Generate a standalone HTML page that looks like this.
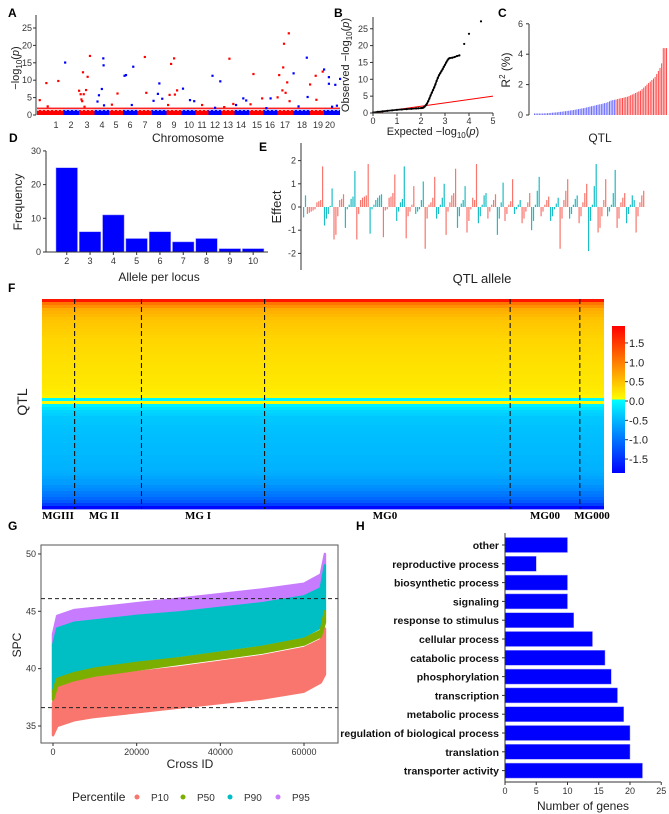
<!DOCTYPE html>
<html><head><meta charset="utf-8"><style>
html,body{margin:0;padding:0;background:#fff;}
svg{display:block;font-family:"Liberation Sans",Arial,sans-serif;}
</style></head><body>
<svg id="fig" width="669" height="814" viewBox="0 0 669 814" xmlns="http://www.w3.org/2000/svg">
<defs>
<linearGradient id="cbar" x1="0" y1="0" x2="0" y2="1">
<stop offset="0" stop-color="#ff0000"/><stop offset="0.25" stop-color="#ff8000"/><stop offset="0.5" stop-color="#ffff00"/><stop offset="0.5" stop-color="#00ffff"/><stop offset="1" stop-color="#0000ff"/>
</linearGradient>
</defs>
<g font-weight="bold" font-size="12" fill="#000">
<text x="8" y="17">A</text>
<text x="334" y="17">B</text>
<text x="498" y="17">C</text>
<text x="9" y="142">D</text>
<text x="259" y="151">E</text>
<text x="8" y="292">F</text>
<text x="8" y="530">G</text>
<text x="356" y="530">H</text>
</g>
<g font-size="12" fill="#222">
<text x="188" y="142" text-anchor="middle">Chromosome</text>
<text transform="translate(19,68) rotate(-90)" text-anchor="middle" font-size="11">−log<tspan font-size="8" dy="3">10</tspan><tspan dy="-3">(</tspan><tspan font-style="italic">p</tspan>)</text>
<text x="433" y="135" text-anchor="middle" font-size="11">Expected  −log<tspan font-size="8" dy="3">10</tspan><tspan dy="-3">(</tspan><tspan font-style="italic">p</tspan>)</text>
<text transform="translate(349,65) rotate(-90)" text-anchor="middle" font-size="11">Observed  −log<tspan font-size="8" dy="3">10</tspan><tspan dy="-3">(</tspan><tspan font-style="italic">p</tspan>)</text>
<text transform="translate(510,70) rotate(-90)" text-anchor="middle">R<tspan font-size="8" dy="-5">2</tspan><tspan dy="5"> (%)</tspan></text>
<text x="600" y="142" text-anchor="middle">QTL</text>
<text x="159" y="281" text-anchor="middle" font-size="12">Allele per locus</text>
<text transform="translate(22,202) rotate(-90)" text-anchor="middle" font-size="12">Frequency</text>
<text transform="translate(281,207) rotate(-90)" text-anchor="middle" font-size="13">Effect</text>
<text x="482" y="283" text-anchor="middle" font-size="13">QTL allele</text>
<text transform="translate(27,402) rotate(-90)" text-anchor="middle" font-size="14">QTL</text>
<text x="190" y="768" text-anchor="middle" font-size="12">Cross ID</text>
<text transform="translate(21,645) rotate(-90)" text-anchor="middle" font-size="12">SPC</text>
<text x="583" y="810" text-anchor="middle" font-size="12">Number of genes</text>
<text x="72" y="801" font-size="12">Percentile</text>
</g>
<g font-family="'Liberation Serif',serif" font-weight="bold" font-size="11" fill="#000">
<text x="58" y="519" text-anchor="middle">MGIII</text>
<text x="104" y="519" text-anchor="middle">MG II</text>
<text x="198" y="519" text-anchor="middle">MG I</text>
<text x="385" y="519" text-anchor="middle">MG0</text>
<text x="545" y="519" text-anchor="middle">MG00</text>
<text x="592" y="519" text-anchor="middle">MG000</text>
</g>
<g id="plots"></g>
</svg>
<script>
// ---------- DATA ----------
const chrLabels=[1,2,3,4,5,6,7,8,9,10,11,12,13,14,15,16,17,18,19,20];
const chrCenters=[56,71,87,102,116,130,145,159,174,189,202,215,228,241,257,270,285,302,318,330];
const manChr=[1,1,1,1,2,3,3,3,3,3,3,3,3,3,3,4,4,4,4,4,4,5,5,6,6,6,6,7,7,8,8,8,8,9,9,9,9,9,9,10,10,10,11,12,12,12,13,13,13,14,14,14,15,15,15,16,16,17,17,17,17,17,17,17,17,17,18,18,18,18,19,19,19,19,20,20,20,20,20,20,20];
const manPos=[0.1,0.35,0.4,0.8,0.1,0.0,0.1,0.15,0.2,0.25,0.3,0.35,0.45,0.55,0.7,0.2,0.3,0.5,0.6,0.62,0.65,0.2,0.6,0.1,0.2,0.6,0.7,0.5,0.6,0.1,0.4,0.5,0.7,0.1,0.2,0.3,0.5,0.55,0.7,0.1,0.6,0.9,0.5,0.3,0.5,0.9,0.2,0.6,0.9,0.1,0.6,0.8,0.1,0.3,0.9,0.2,0.5,0.0,0.1,0.3,0.35,0.4,0.5,0.6,0.7,0.75,0.0,0.3,0.8,0.85,0.0,0.4,0.45,0.9,0.0,0.3,0.3,0.5,0.7,0.8,1.0];
const manVal=[4.3,9.2,2.5,9.8,15.1,7,6,4.5,4,12.3,6,2.4,7.2,11,17,3.9,5.7,7.5,16.3,14.3,2.8,3,6.2,11.3,11.5,2.9,13.9,16.7,6.4,4.1,6.1,9.1,4.7,2.9,5.8,14.7,16.3,5.9,7.1,7.6,4.3,4,2.9,11.3,2.1,9.7,2.3,16.2,3.2,2.9,4.8,4.2,3.1,11.8,4.8,2,4.8,5.1,11.5,7.1,13.7,20.5,6.4,9.4,23.5,4,12,2.5,16.5,5.2,8.8,11.3,4.4,12.5,13.1,10.9,9,2.4,8.7,2.7,10.4];
const manThreshold=1.95;
const qqExp=[0,0.2,0.4,0.6,0.8,1.0,1.2,1.4,1.6,1.8,1.9,2.0,2.05,2.1,2.15,2.2,2.25,2.3,2.35,2.4,2.45,2.5,2.55,2.6,2.65,2.7,2.75,2.8,2.85,2.9,2.95,3.0,3.05,3.1,3.15,3.2,3.3,3.4,3.5,3.6,3.8,4.0,4.5];
const qqObs=[0.15,0.35,0.5,0.65,0.8,0.95,1.05,1.15,1.25,1.35,1.4,1.45,1.5,1.6,1.9,2.3,2.8,3.5,4.3,5.2,6.0,6.8,7.6,8.5,9.5,10.4,11.2,11.8,12.4,13.0,13.7,14.3,15.0,15.6,16.1,16.3,16.4,16.6,16.9,17.1,20.5,23.5,27.2];
const r2Blue=[0.1,0.1,0.1,0.1,0.1,0.1,0.11,0.11,0.12,0.13,0.14,0.15,0.16,0.17,0.18,0.2,0.21,0.22,0.24,0.25,0.27,0.28,0.3,0.31,0.33,0.35,0.37,0.39,0.41,0.43,0.45,0.47,0.5,0.52,0.55,0.58,0.6,0.62,0.65,0.68,0.7,0.72,0.75,0.78,0.8,0.85,0.9,0.95,0.98,1.0];
const r2Red=[1.02,1.05,1.08,1.1,1.12,1.15,1.18,1.2,1.25,1.3,1.35,1.4,1.45,1.5,1.55,1.6,1.7,1.8,1.9,2.0,2.1,2.2,2.3,2.4,2.5,2.7,2.9,3.1,3.4,4.4,4.4,4.4];
const allelesCat=[2,3,4,5,6,7,8,9,10];
const allelesFreq=[25,6,11,4,6,3,4,1,1];
const effLoci=[
[-0.45,0.5],[-0.3,-0.25,-0.2,-0.15,-0.1,0.2,0.25,0.3,1.75],[-0.8,-0.5,-0.3,0.05,0.8],[-1.4,-1.2,-0.4,0.3,0.35,0.55],
[-0.9,-0.1,0.1,0.35,0.45,1.55],[-1.4,-0.3,0.3,0.4,0.45,0.5,1.85],[-1.15,-0.1,0.1,0.3,0.4,0.5,0.55],[-1.3,-0.15,-0.1,0.4,0.45,0.6,1.4],
[-0.6,-0.2,0.2,0.35,1.75],[-1.35,-0.4,-0.2,0.1,0.9],[-0.3,-0.2,-0.1,0.3,1.1],[-1.8,-0.5,0.1,0.2,0.4,1.3],
[-0.5,-0.3,0.1,0.4,1.0],[-1.2,-0.2,0.2,0.5,0.6,1.65],[-0.9,-0.4,0.15,0.3,0.9],[-1.1,-0.6,-0.1,0.4,0.3,1.85],
[-0.7,-0.4,0.1,0.5,0.6],[-0.5,-0.2,0.1,0.3,0.55],[-1.2,-0.5,0.2,1.05],[-0.6,-0.3,0.1,0.25,1.2],
[-0.3,-0.1,0.1,0.3],[-0.7,-0.5,-0.2,0.2,0.6],[-1.0,-0.6,0.1,0.7,1.3],[-0.4,-0.2,0.1,0.3,0.45],
[-0.6,-0.4,-0.1,0.15,0.4],[-1.8,-0.5,0.3,0.7,1.2],[-0.5,-0.3,0.1,0.35,0.5],[-0.7,-0.4,0.2,0.6,1.0],
[-1.9,-0.6,0.1,0.9,1.85],[-1.1,-0.9,-0.4,0.3,1.2],[-0.4,-0.2,0.1,0.6,1.6],[-0.9,-0.5,0.2,0.4,0.6],
[-0.7,-0.3,0.1,0.5,0.3],[-1.1,-0.4,0.2,0.5,0.7]];
const effColors=['#1cbdc4','#f8766d'];
const hmRows=[1.7,1.0,0.8,0.6,0.55,0.5,0.45,0.42,0.4,0.38,0.36,0.34,0.32,0.3,0.3,0.28,0.27,0.26,0.25,0.24,0.23,0.22,0.21,0.2,0.2,0.19,0.18,0.18,0.17,0.16,0.14,0.12,0.08,-0.05,0.05,-0.1,-0.2,-0.3,-0.35,-0.4,-0.4,-0.42,-0.44,-0.45,-0.46,-0.47,-0.48,-0.48,-0.49,-0.5,-0.5,-0.5,-0.52,-0.52,-0.54,-0.55,-0.56,-0.58,-0.6,-0.65,-0.7,-0.72,-0.8,-0.85,-0.95,-1.0,-1.1,-1.2,-1.4,-1.8];
const hmDividers=[0.058,0.177,0.396,0.833,0.957];
const cbTicks=[1.5,1.0,0.5,0.0,-0.5,-1.0,-1.5];
const gX=[0,1000,5000,10000,20000,30000,40000,50000,60000,64000,65000];
const p10Lo=[34.2,35,35.5,35.8,36.2,36.6,37,37.4,38,38.8,39.5];
const p10Hi=[37,38.3,38.8,39.2,39.7,40.1,40.6,41.1,41.8,42.5,43.5];
const p50Lo=[37.3,38.5,39,39.4,39.9,40.4,40.9,41.4,42.1,42.8,44];
const p50Hi=[38,39.1,39.6,40,40.5,40.9,41.4,41.9,42.6,43.3,45];
const p90Lo=[38,39.2,39.7,40.1,40.6,41.1,41.6,42.1,42.8,43.6,45];
const p90Hi=[42,43.5,44,44.2,44.6,44.9,45.3,45.7,46.3,47,49];
const p95Hi=[43,44.6,45.1,45.3,45.7,46.1,46.5,46.9,47.4,48.2,50];
const gHlines=[46.1,36.6];
const gYTicks=[35,40,45,50];
const gXTicks=[0,20000,40000,60000];
const hCats=['other','reproductive process','biosynthetic process','signaling','response to stimulus','cellular process','catabolic process','phosphorylation','transcription','metabolic process','regulation of biological process','translation','transporter activity'];
const hVals=[10,5,10,10,11,14,16,17,18,19,20,20,22];
const hTicks=[0,5,10,15,20,25];

// ---------- HELPERS ----------
const NS='http://www.w3.org/2000/svg';
const root=document.getElementById('plots');
function mk(tag,attrs,parent){const e=document.createElementNS(NS,tag);for(const k in attrs)e.setAttribute(k,attrs[k]);(parent||root).appendChild(e);return e;}
function line(x1,y1,x2,y2,stroke,name,extra){const l=mk('line',Object.assign({x1:x1,y1:y1,x2:x2,y2:y2,stroke:stroke,'stroke-width':1},extra||{}));


return l;}
function label(x,y,s,anchor,size,name,extra){const t=mk('text',Object.assign({x:x,y:y,'text-anchor':anchor,'font-size':size,fill:'#333'},extra||{}));t.textContent=s;


return t;}

// ---------- A: Manhattan ----------
const aY=v=>115-v*3.48;
const chrEdges=[37];
for(let i=0;i<chrCenters.length-1;i++)chrEdges.push((chrCenters[i]+chrCenters[i+1])/2);
chrEdges.push(340);
chrLabels.forEach((c,i)=>{
 const r=mk('rect',{x:chrEdges[i],y:aY(1.5),width:chrEdges[i+1]-chrEdges[i],height:aY(0)-aY(1.5),fill:(c%2?'#ff0000':'#0000ff')});
 
 
 label(chrCenters[i],128,String(c),'middle',9,'chromosome-tick');
});
line(37,aY(manThreshold),340,aY(manThreshold),'#ff0000','threshold-line',{'stroke-width':1.3});
line(37,aY(1.3),340,aY(1.3),'#ffffff','suggestive-line',{'stroke-dasharray':'2,2','stroke-width':0.6});
manVal.forEach((v,i)=>{const c=manChr[i]-1;const x=chrEdges[c]+manPos[i]*(chrEdges[c+1]-chrEdges[c]);
 const p=mk('rect',{x:x-1,y:aY(v)-1,width:2.2,height:2.2,fill:(manChr[i]%2?'#ff0000':'#0000ff')});
 
 });
line(36,15,36,115,'#333','a-y-axis');
[0,5,10,15,20,25].forEach(t=>{line(33,aY(t),36,aY(t),'#333','a-y-tick');label(32,aY(t)+3,String(t),'end',9,'a-y-tick-label');});

// ---------- B: QQ ----------
const bX=v=>373+v*24, bY=v=>113-v*3.37;
line(bX(0),bY(0),bX(5),bY(5),'#ff0000','qq-reference-line');
const qpts=qqExp.map((e,i)=>bX(e)+','+bY(qqObs[i])).slice(0,40).join(' ');
const ql=mk('polyline',{points:qpts,fill:'none',stroke:'#000','stroke-width':1.6});


qqExp.forEach((e,i)=>{const c=mk('circle',{cx:bX(e),cy:bY(qqObs[i]),r:1.1,fill:'#000'});
 
 });
line(373,17,373,113,'#333','b-y-axis');line(373,113,493,113,'#333','b-x-axis');
[0,5,10,15,20,25].forEach(t=>{line(370,bY(t),373,bY(t),'#333','b-y-tick');label(368,bY(t)+3,String(t),'end',9,'b-y-tick-label');});
[0,1,2,3,4,5].forEach(t=>{line(bX(t),113,bX(t),116,'#333','b-x-tick');label(bX(t),124,String(t),'middle',9,'b-x-tick-label');});

// ---------- C: R2 bars ----------
const cY=v=>115-v*15.2;
const r2All=r2Blue.concat(r2Red);
r2All.forEach((v,i)=>{const b=mk('rect',{x:534+i*1.63,y:cY(v),width:1,height:cY(0)-cY(v),fill:(i<r2Blue.length?'#6a6aff':'#ff4a4a')});
 
 });
line(529,24,529,115,'#333','c-y-axis');
[0,2,4,6].forEach(t=>{line(526,cY(t),529,cY(t),'#333','c-y-tick');label(523,cY(t)+3,String(t),'end',9,'c-y-tick-label');});

// ---------- D: histogram ----------
const dY=v=>252-v*3.37, dX=i=>56+i*23.3;
allelesFreq.forEach((v,i)=>{const b=mk('rect',{x:dX(i),y:dY(v),width:21.5,height:dY(0)-dY(v),fill:'#0000ff',stroke:'#9999ff','stroke-width':0.5});
 
 
 line(dX(i)+10.75,252,dX(i)+10.75,255,'#333','d-x-tick');
 label(dX(i)+10.75,264,String(allelesCat[i]),'middle',9,'d-x-tick-label');});
line(46,151,46,252,'#333','d-y-axis');line(46,252,268,252,'#333','d-x-axis');
[0,10,20,30].forEach(t=>{line(43,dY(t),46,dY(t),'#333','d-y-tick');label(41,dY(t)+3,String(t),'end',9,'d-y-tick-label');});

// ---------- E: effects ----------
const eY=v=>207-v*23.2;
let ei=0;
effLoci.forEach((loc,li)=>{loc.forEach(v=>{const x=303+ei*1.9;
 const b=mk('rect',{x:x,y:Math.min(eY(v),eY(0)),width:1.2,height:Math.abs(eY(v)-eY(0)),fill:effColors[li%2]});
 
 
 ei++;});});
line(301,143,301,270,'#333','e-y-axis');
[2,1,0,-1,-2].forEach(t=>{line(298,eY(t),301,eY(t),'#333','e-y-tick');label(296,eY(t)+3,String(t),'end',9,'e-y-tick-label');});

// ---------- F: heatmap ----------
function cmap(v){const t=Math.min(1,Math.abs(v)/1.85);if(v>=0)return 'rgb(255,'+Math.round(255*(1-t))+',0)';return 'rgb(0,'+Math.round(255*(1-t))+',255)';}
const hmTop=299,hmBot=509,hmL=42,hmR=604,rowH=(hmBot-hmTop)/hmRows.length;
hmRows.forEach((v,i)=>{const r=mk('rect',{x:hmL,y:hmTop+i*rowH,width:hmR-hmL,height:rowH+0.4,fill:cmap(v)});
 
 });
hmDividers.forEach(f=>{line(hmL+f*(hmR-hmL),hmTop,hmL+f*(hmR-hmL),hmBot,'#111','maturity-group-divider',{'stroke-dasharray':'5,3','stroke-width':1.1});});
const cb=mk('rect',{x:612,y:326,width:13,height:147,fill:'url(#cbar)'});


const cbY=v=>401-v*38.7;
cbTicks.forEach(t=>{line(625,cbY(t),628,cbY(t),'#333','colorbar-tick');label(629,cbY(t)+4,t.toFixed(1),'start',11,'colorbar-tick-label',{fill:'#222'});});

// ---------- G: SPC ----------
const gx=v=>53+v*(251/60000), gy=v=>726-(v-35)*11.47;
function band(lo,hi,color,name){const pts=gX.map((x,i)=>gx(x)+','+gy(hi[i])).concat(gX.slice().reverse().map((x,j)=>gx(x)+','+gy(lo[gX.length-1-j])));
 const p=mk('polygon',{points:pts.join(' '),fill:color,stroke:color,'stroke-width':2.5,'stroke-linejoin':'round'});
 
 }
band(p90Hi,p95Hi,'#c77cff','p95-band');
band(p90Lo,p90Hi,'#00bfc4','p90-band');
band(p10Lo,p10Hi,'#f8766d','p10-band');
band(p50Lo,p50Hi,'#7cae00','p50-band');
const gb=mk('rect',{x:41,y:545,width:297,height:198,fill:'none',stroke:'#555','stroke-width':1});


gHlines.forEach(v=>line(41,gy(v),338,gy(v),'#222','g-reference-line',{'stroke-dasharray':'4,3'}));
gYTicks.forEach(t=>{line(38,gy(t),41,gy(t),'#333','g-y-tick');label(36,gy(t)+3,String(t),'end',9,'g-y-tick-label');});
gXTicks.forEach(t=>{line(gx(t),743,gx(t),746,'#333','g-x-tick');label(gx(t),755,String(t),'middle',9,'g-x-tick-label');});
[['P10','#f8766d',137],['P50','#7cae00',183],['P90','#00bfc4',230],['P95','#c77cff',278]].forEach(d=>{
 const c=mk('circle',{cx:d[2],cy:797,r:2.5,fill:d[1]});
 
 
 label(d[2]+14,801,d[0],'start',10,'legend-entry');});

// ---------- H: GO bars ----------
const hX=v=>505+v*6.25, hY=i=>545+i*18.8;
hCats.forEach((c,i)=>{const b=mk('rect',{x:505,y:hY(i)-7.5,width:hX(hVals[i])-505,height:15,fill:'#0000ff',stroke:'#9999ff','stroke-width':0.5});
 
 
 line(502,hY(i),505,hY(i),'#333','h-y-tick');
 label(499,hY(i)+4,c,'end',10.5,'go-category-label',{fill:'#111','font-weight':'bold'});});
line(505,533,505,782,'#333','h-y-axis');line(505,782,661,782,'#333','h-x-axis');
hTicks.forEach(t=>{line(hX(t),782,hX(t),785,'#333','h-x-tick');label(hX(t),794,String(t),'middle',9,'h-x-tick-label');});
</script>
</body></html>
